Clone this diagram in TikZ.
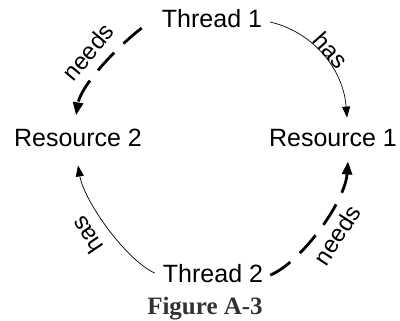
\documentclass[tikz,border=0pt]{standalone}
\usepackage{fontspec}
\setmainfont{Liberation Sans}
\newfontfamily\figfont{Liberation Serif}
\usetikzlibrary{arrows.meta}
\definecolor{figgray}{HTML}{333333}
\begin{document}
\begin{tikzpicture}[x=1pt,y=1pt,
  lbl/.style={font=\fontsize{25}{30}\selectfont, inner sep=0pt, anchor=base},
  edgelbl/.style={font=\fontsize{24}{28}\selectfont, inner sep=0pt},
  hasline/.style={line width=0.7pt, -{Triangle[length=11pt,width=8pt]}},
  needsline/.style={line width=2.8pt, dash pattern=on 24pt off 13pt, -{Triangle[length=13pt,width=10pt]}}]
\useasboundingbox (0,0) rectangle (400,321);
\node[lbl] (t1) at (212,293) {Thread 1};
\node[lbl] (r2) at (78,174) {Resource 2};
\node[lbl] (r1) at (333,174) {Resource 1};
\node[lbl] (t2) at (213,38) {Thread 2};
\node[font=\figfont\bfseries\fontsize{25}{30}\selectfont, text=figgray, inner sep=0pt, anchor=base] (fig) at (205,6) {Figure A-3};
% Thread 1 has Resource 1
\draw[hasline] ([xshift=8pt,yshift=-3pt]t1.east) .. controls +(40,-9) and +(-4,51) .. ([xshift=14pt,yshift=12pt]r1.north);
% Thread 1 needs Resource 2
\draw[needsline] ([xshift=-20pt,yshift=-9pt]t1.west) .. controls +(-24,-18) and +(5,30) .. ([xshift=-2pt,yshift=14pt]r2.north);
% Thread 2 has Resource 2
\draw[hasline] ([xshift=-8pt,yshift=1pt]t2.west) .. controls +(-30,14) and +(6,-35) .. ([yshift=-18pt]r2.south);
% Thread 2 needs Resource 1
\draw[needsline] ([xshift=7pt,yshift=-1pt]t2.east) .. controls +(30,12) and +(-3,-41) .. ([xshift=15pt,yshift=-14pt]r1.south);
% labels
\node[edgelbl, rotate=-48] (l1) at (331,271) {has};
\node[edgelbl, rotate=50] (l2) at (88,269) {needs};
\node[edgelbl, rotate=124] (l3) at (87,86) {has};
\node[edgelbl, rotate=57] (l4) at (337,86) {needs};
\end{tikzpicture}
\end{document}
